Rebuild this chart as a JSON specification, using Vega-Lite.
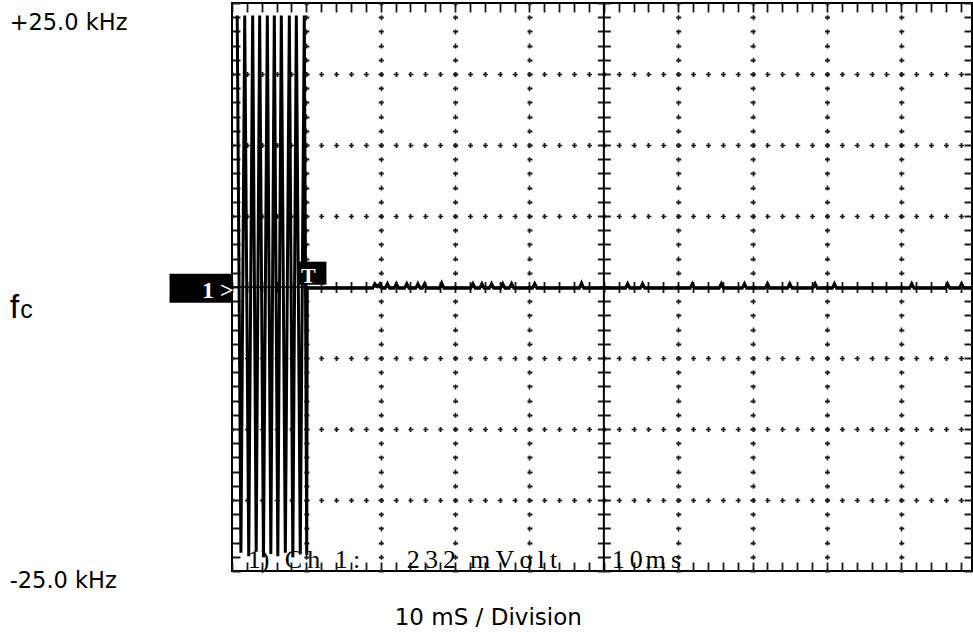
{
  "$schema": "https://vega.github.io/schema/vega-lite/v6.json",
  "width": 740,
  "height": 568,
  "autosize": {"type": "none"},
  "padding": {"left": 232, "top": 3, "right": 1, "bottom": 63},
  "background": "white",
  "config": {
    "view": {"stroke": "#000", "strokeWidth": 2},
    "axis": {"domain": false, "ticks": false, "labels": false, "gridColor": "#1a1a1a", "gridOpacity": 1}
  },
  "datasets": {
    "trace": [
      {"t": 0.7, "f": 23.9}, {"t": 1.2, "f": -23.4}, {"t": 1.71, "f": 23.9}, {"t": 2.25, "f": -23.7},
      {"t": 2.78, "f": 23.9}, {"t": 3.25, "f": -23.3}, {"t": 3.72, "f": 23.9}, {"t": 4.23, "f": -23.8},
      {"t": 4.75, "f": 23.9}, {"t": 5.22, "f": -23.5}, {"t": 5.69, "f": 23.9}, {"t": 6.16, "f": -23.7},
      {"t": 6.63, "f": 23.9}, {"t": 7.17, "f": -23.4}, {"t": 7.71, "f": 23.9}, {"t": 8.18, "f": -23.8},
      {"t": 8.65, "f": 23.9}, {"t": 9.18, "f": -23.5}, {"t": 9.72, "f": 23.9}, {"t": 10.05, "f": -23.6},
      {"t": 10.12, "f": -0.1},
      {"t": 18.9, "f": -0.1}, {"t": 19.2, "f": 0.3}, {"t": 19.55, "f": 0.05}, {"t": 19.9, "f": 0.3}, {"t": 20.2, "f": -0.1},
      {"t": 20.6, "f": -0.1}, {"t": 20.9, "f": 0.3}, {"t": 21.2, "f": -0.1},
      {"t": 21.8, "f": -0.1}, {"t": 22.1, "f": 0.3}, {"t": 22.4, "f": -0.1},
      {"t": 23.2, "f": -0.1}, {"t": 23.5, "f": 0.3}, {"t": 23.8, "f": -0.1},
      {"t": 24.7, "f": -0.1}, {"t": 25.0, "f": 0.3}, {"t": 25.3, "f": -0.1},
      {"t": 25.6, "f": -0.1}, {"t": 25.9, "f": 0.3}, {"t": 26.2, "f": -0.1},
      {"t": 27.9, "f": -0.1}, {"t": 28.2, "f": 0.35}, {"t": 28.5, "f": -0.1},
      {"t": 32.1, "f": -0.1}, {"t": 32.4, "f": 0.3}, {"t": 32.7, "f": -0.1},
      {"t": 33.3, "f": -0.1}, {"t": 33.6, "f": 0.3}, {"t": 33.9, "f": -0.1},
      {"t": 34.6, "f": -0.1}, {"t": 34.9, "f": 0.3}, {"t": 35.2, "f": -0.1},
      {"t": 36.1, "f": -0.1}, {"t": 36.4, "f": 0.3}, {"t": 36.7, "f": -0.1},
      {"t": 37.3, "f": -0.1}, {"t": 37.6, "f": 0.3}, {"t": 37.9, "f": -0.1},
      {"t": 40.4, "f": -0.1}, {"t": 40.7, "f": 0.3}, {"t": 41.0, "f": -0.1},
      {"t": 46.7, "f": -0.1}, {"t": 47.0, "f": 0.35}, {"t": 47.3, "f": -0.1},
      {"t": 52.9, "f": -0.1}, {"t": 53.2, "f": 0.3}, {"t": 53.5, "f": -0.1},
      {"t": 54.9, "f": -0.1}, {"t": 55.2, "f": 0.3}, {"t": 55.5, "f": -0.1},
      {"t": 61.6, "f": -0.1}, {"t": 61.9, "f": 0.3}, {"t": 62.2, "f": -0.1},
      {"t": 65.5, "f": -0.1}, {"t": 65.8, "f": 0.3}, {"t": 66.1, "f": -0.1},
      {"t": 68.6, "f": -0.1}, {"t": 68.9, "f": 0.3}, {"t": 69.2, "f": -0.1},
      {"t": 71.7, "f": -0.1}, {"t": 72.0, "f": 0.3}, {"t": 72.3, "f": -0.1},
      {"t": 74.7, "f": -0.1}, {"t": 75.0, "f": 0.3}, {"t": 75.3, "f": -0.1},
      {"t": 78.1, "f": -0.1}, {"t": 78.4, "f": 0.3}, {"t": 78.7, "f": -0.1},
      {"t": 80.7, "f": -0.1}, {"t": 81.0, "f": 0.3}, {"t": 81.3, "f": -0.1},
      {"t": 91.1, "f": -0.1}, {"t": 91.4, "f": 0.3}, {"t": 91.7, "f": -0.1},
      {"t": 95.9, "f": -0.1}, {"t": 96.2, "f": 0.3}, {"t": 96.5, "f": -0.1},
      {"t": 97.8, "f": -0.1}, {"t": 98.1, "f": 0.3}, {"t": 98.4, "f": -0.1},
      {"t": 99.5, "f": -0.1}
    ],
    "labels": [
      {"t": -29.9, "f": 22.65, "label": "+25.0 kHz"},
      {"t": -29.9, "f": -26.47, "label": "-25.0 kHz"},
      {"t": 21.88, "f": -29.73, "label": "10 mS / Division"}
    ],
    "fc": [
      {"t": -29.89, "f": -2.73, "label": "f"},
      {"t": -28.48, "f": -2.73, "label": "c"}
    ],
    "markers": [
      {"t": -8.4, "t2": 0.1, "f": 1.17, "f2": -1.38},
      {"t": 8.8, "t2": 12.7, "f": 2.23, "f2": 0.2}
    ],
    "markerText": [
      {"t": 0.23, "f": -0.94, "label": "1 >"},
      {"t": 11.26, "f": 0.37, "label": "T"}
    ],
    "status": [
      {"t": 2.11, "f": -24.71, "label": "1)"},
      {"t": 7.09, "f": -24.71, "label": "C\u2009h"},
      {"t": 13.81, "f": -24.71, "label": "1\u2009:"},
      {"t": 23.49, "f": -24.71, "label": "2\u20093\u20092"},
      {"t": 32.0, "f": -24.71, "label": "m\u2009V\u2009o\u2009l\u2009t"},
      {"t": 51.05, "f": -24.71, "label": "1\u20090"},
      {"t": 55.6, "f": -24.71, "label": "m\u2009s"}
    ]
  },
  "resolve": {"axis": {"x": "independent", "y": "independent"}},
  "layer": [
    {
      "data": {"name": "markers"},
      "mark": {"type": "rect", "color": "#000"},
      "encoding": {
        "x": {"field": "t", "type": "quantitative", "scale": {"domain": [0, 99.5], "nice": false, "zero": false}, "axis": null},
        "x2": {"field": "t2"},
        "y": {"field": "f", "type": "quantitative", "scale": {"domain": [-25, 25], "nice": false, "zero": false}, "axis": null},
        "y2": {"field": "f2"}
      }
    },
    {
      "data": {"values": [{"t": 50}]},
      "mark": {"type": "rule", "color": "#000", "strokeWidth": 2},
      "encoding": {
        "x": {"field": "t", "type": "quantitative", "scale": {"domain": [0, 99.5], "nice": false, "zero": false}, "axis": null}
      }
    },
    {
      "data": {"values": [{"f": 0}]},
      "mark": {"type": "rule", "color": "#000", "strokeWidth": 1.5},
      "encoding": {
        "y": {"field": "f", "type": "quantitative", "scale": {"domain": [-25, 25], "nice": false, "zero": false}, "axis": null}
      }
    },
    {
      "data": {"name": "trace"},
      "mark": {"type": "line", "color": "#000", "strokeWidth": 3},
      "encoding": {
        "x": {
          "field": "t", "type": "quantitative",
          "scale": {"domain": [0, 99.5], "nice": false, "zero": false},
          "axis": {
            "orient": "bottom", "title": null, "labels": false, "ticks": false, "domain": false,
            "values": [0,2,4,6,8,10,12,14,16,18,20,22,24,26,28,30,32,34,36,38,40,42,44,46,48,50,52,54,56,58,60,62,64,66,68,70,72,74,76,78,80,82,84,86,88,90,92,94,96,98],
            "grid": true, "gridWidth": 1.8,
            "gridDash": [9, 59.5, 5, 66, 5, 66, 5, 63, 11, 63, 5, 66, 5, 66, 5, 59.5, 9, 20]
          }
        },
        "y": {
          "field": "f", "type": "quantitative",
          "scale": {"domain": [-25, 25], "nice": false, "zero": false},
          "axis": {
            "orient": "left", "title": null, "labels": false, "ticks": false, "domain": false,
            "values": [-25,-23.75,-22.5,-21.25,-20,-18.75,-17.5,-16.25,-15,-13.75,-12.5,-11.25,-10,-8.75,-7.5,-6.25,-5,-3.75,-2.5,-1.25,0,1.25,2.5,3.75,5,6.25,7.5,8.75,10,11.25,12.5,13.75,15,16.25,17.5,18.75,20,21.25,22.5,23.75,25],
            "grid": true, "gridWidth": 1.8,
            "gridDash": [8, 63.87, 5, 69.37, 5, 69.37, 5, 69.37, 5, 65.37, 13, 65.37, 5, 69.37, 5, 69.37, 5, 69.37, 5, 60.17, 8, 20]
          }
        }
      }
    },
    {
      "data": {"name": "labels"},
      "mark": {"type": "text", "font": "DejaVu Sans", "align": "left", "baseline": "alphabetic", "color": "#000"},
      "encoding": {
        "x": {
          "field": "t", "type": "quantitative",
          "scale": {"domain": [0, 99.5], "nice": false, "zero": false},
          "axis": {
            "orient": "top", "title": null, "labels": false, "ticks": false, "domain": false,
            "values": [10, 20, 30, 40, 60, 70, 80, 90],
            "grid": true, "gridWidth": 1.6, "gridDash": [5, 9.2], "gridDashOffset": 2.5
          }
        },
        "y": {
          "field": "f", "type": "quantitative",
          "scale": {"domain": [-25, 25], "nice": false, "zero": false},
          "axis": {
            "orient": "left", "title": null, "labels": false, "ticks": false, "domain": false,
            "values": [-18.75, -12.5, -6.25, 6.25, 12.5, 18.75],
            "grid": true, "gridWidth": 1.6, "gridDash": [5, 9.874], "gridDashOffset": 2.5
          }
        },
        "text": {"field": "label"},
        "size": {"condition": {"test": "datum.label === '10 mS / Division'", "value": 23}, "value": 22.5}
      }
    },
    {
      "data": {"name": "fc"},
      "mark": {"type": "text", "font": "Liberation Sans", "align": "left", "baseline": "alphabetic", "color": "#000"},
      "encoding": {
        "x": {"field": "t", "type": "quantitative", "scale": {"domain": [0, 99.5], "nice": false, "zero": false}, "axis": null},
        "y": {"field": "f", "type": "quantitative", "scale": {"domain": [-25, 25], "nice": false, "zero": false}, "axis": null},
        "text": {"field": "label"},
        "size": {"condition": {"test": "datum.label === 'f'", "value": 34}, "value": 25}
      }
    },
    {
      "data": {"name": "markerText"},
      "mark": {"type": "text", "font": "Liberation Serif", "fontWeight": "bold", "align": "right", "baseline": "alphabetic", "color": "#fff"},
      "encoding": {
        "x": {"field": "t", "type": "quantitative", "scale": {"domain": [0, 99.5], "nice": false, "zero": false}, "axis": null},
        "y": {"field": "f", "type": "quantitative", "scale": {"domain": [-25, 25], "nice": false, "zero": false}, "axis": null},
        "text": {"field": "label"},
        "size": {"condition": {"test": "datum.label === 'T'", "value": 22}, "value": 24}
      }
    },
    {
      "data": {"name": "status"},
      "mark": {"type": "text", "font": "Liberation Serif", "fontSize": 26, "align": "left", "baseline": "alphabetic", "color": "#000"},
      "encoding": {
        "x": {"field": "t", "type": "quantitative", "scale": {"domain": [0, 99.5], "nice": false, "zero": false}, "axis": null},
        "y": {"field": "f", "type": "quantitative", "scale": {"domain": [-25, 25], "nice": false, "zero": false}, "axis": null},
        "text": {"field": "label"}
      }
    }
  ]
}
